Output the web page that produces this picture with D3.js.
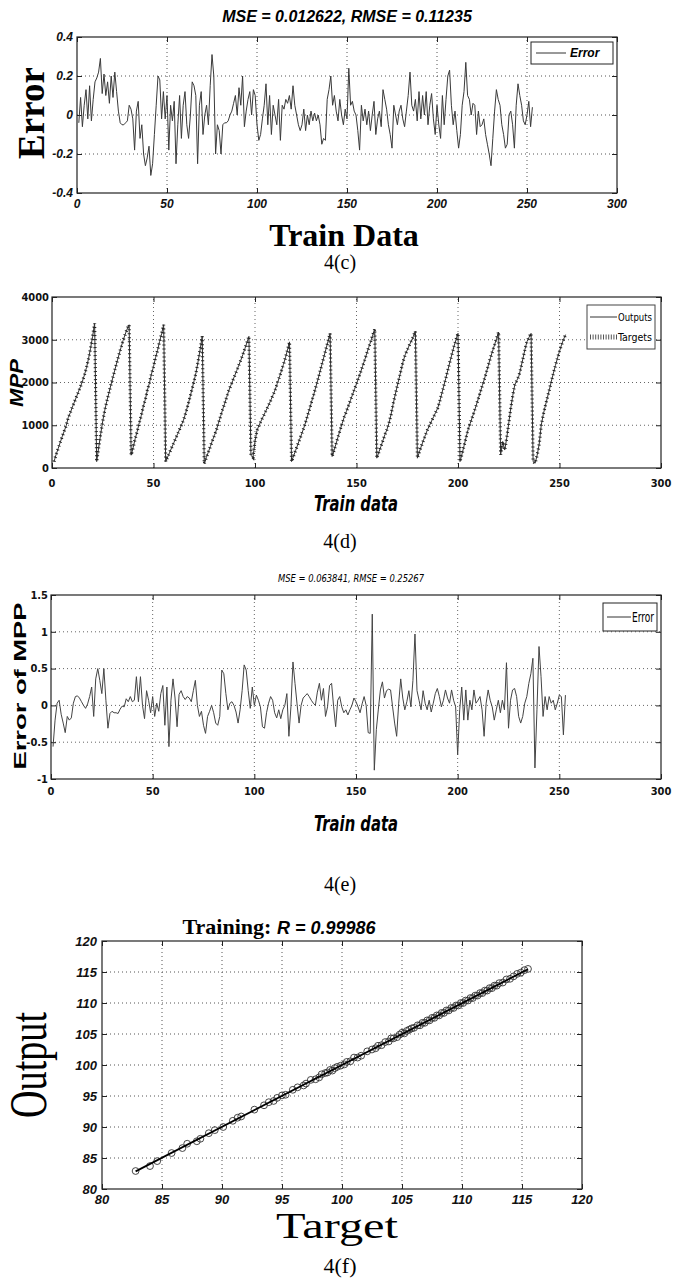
<!DOCTYPE html>
<html>
<head>
<meta charset="utf-8">
<script src="https://cdn.jsdelivr.net/npm/d3@7"></script>
<style>
  html, body { margin: 0; padding: 0; background: #fff; }
  svg { display: block; }
  .sans { font-family: "Liberation Sans", Arial, sans-serif; }
  .narrow { font-family: "Liberation Sans Narrow", "DejaVu Sans Condensed", "Arial Narrow", sans-serif; }
  .serif { font-family: "Liberation Serif", "Times New Roman", serif; }
</style>
</head>
<body>
<svg id="fig" width="681" height="1280"></svg>
<script>
// ---- 4(c): training error per sample ----
const trainErrorC = [
  -0.04, 0.09, -0.06, 0.05, 0.13, -0.02, 0.15, -0.03, 0.08, 0.17,
  0.19, 0.22, 0.29, 0.11, 0.21, 0.10, 0.17, 0.06, 0.20, 0.09,
  0.22, 0.12, 0.02, -0.04, -0.05, -0.05, -0.04, -0.03, 0.05, 0.03,
  -0.02, -0.18, 0.02, 0.07, -0.12, -0.05, -0.20, -0.26, -0.22, -0.16,
  -0.31, -0.25, -0.10, 0.05, 0.20, 0.18, -0.02, 0.12, -0.02, 0.10,
  -0.18, 0.05, -0.03, 0.07, -0.25, -0.05, 0.10, -0.12, 0.05, 0.12,
  -0.05, -0.12, 0.00, 0.17, 0.15, 0.10, -0.25, 0.05, 0.12, -0.10,
  0.00, 0.05, -0.05, 0.15, 0.31, 0.20, -0.20, -0.05, -0.08, -0.20,
  -0.05, -0.04, -0.04, -0.03, 0.00, 0.02, 0.06, 0.10, 0.00, 0.14,
  0.05, 0.20, -0.06, 0.02, 0.08, 0.12, 0.00, 0.13, 0.10, -0.05,
  -0.13, -0.10, -0.02, 0.05, 0.16, -0.05, 0.10, -0.10, 0.05, 0.00,
  -0.05, 0.08, -0.13, 0.05, 0.03, 0.08, 0.06, 0.10, 0.03, 0.15,
  0.05, 0.00, -0.05, -0.08, -0.05, 0.03, -0.08, 0.00, -0.05, 0.02,
  -0.03, 0.01, -0.03, 0.00, -0.05, -0.15, -0.12, -0.13, 0.08, 0.13,
  0.20, 0.05, 0.10, 0.02, -0.03, 0.08, 0.00, -0.05, 0.03, -0.02,
  0.24, 0.05, 0.07, 0.02, 0.00, -0.08, -0.18, 0.05, -0.03, 0.03,
  -0.05, 0.02, -0.08, 0.00, 0.07, -0.10, -0.02, 0.02, -0.06, 0.13,
  0.08, 0.03, -0.05, -0.10, -0.17, 0.05, 0.00, -0.05, 0.02, 0.05,
  -0.02, -0.06, 0.02, 0.10, 0.22, 0.05, 0.02, 0.08, -0.03, 0.12,
  -0.02, 0.10, 0.00, 0.12, -0.05, 0.05, 0.11, -0.02, -0.10, 0.05,
  -0.05, -0.12, 0.10, -0.05, 0.08, 0.20, 0.23, 0.05, -0.05, 0.02,
  -0.08, -0.17, -0.10, 0.05, 0.12, 0.27, 0.10, 0.08, 0.00, 0.06,
  0.05, -0.10, 0.02, -0.06, -0.05, -0.02, -0.10, -0.15, -0.20, -0.26,
  -0.12, 0.02, 0.13, 0.08, 0.05, -0.05, -0.10, -0.17, -0.15, 0.00,
  0.02, -0.05, -0.17, 0.05, 0.16, 0.10, 0.05, -0.03, -0.05, 0.00,
  0.07, -0.06, 0.04
];
const titleC = "MSE = 0.012622, RMSE = 0.11235";
const xTicksC = [0, 50, 100, 150, 200, 250, 300];
const yTicksC = [-0.4, -0.2, 0, 0.2, 0.4];

// ---- 4(d): MPP targets (network outputs = targets - error of MPP) ----
const mppTargets = [
  150, 310, 450, 590, 730, 860, 990, 1180, 1290, 1420, 1540, 1660, 1780, 1900, 2030, 2180, 2350, 2560, 2800, 3080, 3380,
  150, 480, 800, 1100, 1350, 1560, 1750, 1940, 2120, 2300, 2480, 2650, 2820, 2980, 3120, 3250, 3350,
  300, 480, 690, 860, 1060, 1230, 1440, 1610, 1820, 1990, 2200, 2370, 2580, 2750, 2960, 3140, 3350,
  150, 260, 370, 480, 590, 700, 810, 920, 1030, 1150, 1310, 1480, 1660, 1850, 2040, 2240, 2500, 2780, 3080,
  100, 240, 370, 500, 640, 760, 890, 1050, 1200, 1360, 1500, 1650, 1800, 1920, 2040, 2160, 2280, 2400, 2520, 2650, 2790, 2930, 3080,
  300, 250, 620, 880, 1000, 1100, 1200, 1300, 1400, 1500, 1610, 1720, 1840, 1980, 2120, 2270, 2420, 2580, 2760, 2950,
  150, 280, 410, 540, 670, 800, 930, 1080, 1240, 1400, 1570, 1730, 1900, 2070, 2250, 2430, 2610, 2790, 2970, 3150,
  270, 420, 580, 740, 900, 1050, 1200, 1320, 1450, 1580, 1710, 1840, 1970, 2100, 2240, 2380, 2520, 2670, 2820, 2960, 3110, 3250,
  230, 370, 500, 640, 780, 900, 1050, 1250, 1480, 1700, 1900, 2100, 2300, 2500, 2650, 2760, 2870, 2970, 3080, 3200,
  230, 380, 520, 650, 780, 900, 1000, 1100, 1200, 1300, 1400, 1560, 1740, 1920, 2100, 2290, 2480, 2660, 2840, 3000, 3150,
  150, 330, 520, 720, 900, 1040, 1180, 1320, 1470, 1620, 1780, 1930, 2080, 2240, 2410, 2580, 2730, 2880, 3030, 3180,
  310, 620, 420, 700, 1050, 1400, 1700, 1950, 2050, 2150, 2350, 2560, 2780, 2960, 3060, 3150,
  150, 110, 300, 560, 1000, 1250, 1450, 1640, 1830, 2030, 2220, 2400, 2570, 2730, 2880, 3010, 3120
];
const xTicksD = [0, 50, 100, 150, 200, 250, 300];
const yTicksD = [0, 1000, 2000, 3000, 4000];

// ---- 4(e): error of MPP ----
const mppError = [
  -0.56, -0.20, 0.03, 0.07, -0.12, -0.24, -0.37, -0.15, -0.20, -0.17,
  0.03, 0.12, 0.13, 0.10, 0.05, 0.00, -0.04, 0.02, 0.12, 0.25,
  -0.15, 0.36, 0.50, 0.34, 0.16, 0.50, 0.07, -0.31, -0.11, -0.08,
  -0.10, -0.10, -0.11, -0.05, -0.01, -0.02, 0.09, 0.05, 0.12, 0.05,
  0.07, 0.39, 0.05, 0.39, 0.00, -0.18, 0.20, 0.07, -0.10, 0.12,
  -0.15, 0.03, -0.08, 0.16, 0.27, -0.27, 0.25, -0.56, 0.07, 0.36,
  0.10, -0.29, 0.15, 0.20, 0.12, 0.08, 0.12, 0.10, 0.05, 0.20,
  0.34, 0.00, -0.15, -0.08, -0.27, -0.38, -0.15, -0.08, 0.00, -0.10,
  -0.24, -0.27, -0.15, 0.48, 0.43, 0.16, -0.06, 0.03, 0.05, 0.00,
  -0.09, -0.24, -0.06, 0.20, 0.55, 0.48, 0.20, -0.04, 0.25, 0.00,
  0.14, 0.07, -0.02, -0.29, -0.31, -0.10, 0.03, 0.12, 0.07, -0.10,
  -0.17, -0.06, -0.18, -0.06, 0.00, 0.16, -0.42, -0.02, 0.59, 0.30,
  0.02, -0.24, 0.00, 0.10, 0.13, 0.16, 0.12, 0.07, 0.03, 0.00,
  0.18, 0.30, 0.07, 0.23, -0.15, -0.02, 0.27, 0.30, -0.02, -0.29,
  0.07, 0.12, -0.02, -0.10, -0.06, -0.13, -0.06, 0.00, 0.10, 0.05,
  -0.02, -0.10, 0.02, 0.12, 0.00, -0.37, -0.38, 1.24, -0.88, -0.33,
  -0.05, 0.21, 0.32, 0.10, 0.20, 0.22, 0.21, -0.02, -0.24, -0.42,
  0.03, 0.36, 0.10, -0.06, 0.05, 0.20, -0.02, 0.34, 0.97, 0.20,
  0.07, -0.06, 0.20, 0.03, -0.06, 0.07, -0.09, 0.03, 0.16, 0.23,
  0.12, -0.02, 0.07, 0.21, 0.10, 0.03, 0.21, 0.07, -0.02, -0.67,
  -0.06, 0.25, -0.20, 0.21, -0.20, 0.07, -0.06, 0.21, 0.03, 0.07,
  0.12, -0.06, -0.42, 0.03, 0.21, 0.07, -0.02, -0.20, -0.06, 0.07,
  -0.10, 0.07, -0.06, 0.58, -0.31, 0.07, 0.21, 0.23, 0.12, -0.15,
  -0.24, -0.15, 0.03, 0.12, 0.30, 0.43, 0.64, -0.85, -0.06, 0.80,
  0.39, -0.15, 0.12, -0.06, 0.12, 0.03, 0.07, -0.06, 0.03, 0.14,
  0.12, -0.40, 0.14
];
const titleE = "MSE = 0.063841, RMSE = 0.25267";
const xTicksE = [0, 50, 100, 150, 200, 250, 300];
const yTicksE = [-1, -0.5, 0, 0.5, 1, 1.5];

// ---- 4(f): regression of outputs against targets ----
const regTargets = [
  82.8, 84.0, 84.6, 85.8, 86.7, 87.1, 87.9, 88.2, 88.9, 89.4,
  90.1, 90.9, 91.3, 91.6, 92.7, 93.5, 93.9, 94.3, 94.6, 95.0,
  95.3, 95.9, 96.3, 96.8, 97.0, 97.4, 97.8, 98.1, 98.3, 98.6,
  98.8, 99.0, 99.2, 99.4, 99.6, 99.9, 100.2, 100.4, 100.7, 101.0,
  101.3, 101.6, 102.1, 102.5, 102.8, 103.0, 103.3, 103.6, 103.9, 104.1,
  104.3, 104.6, 104.8, 105.0, 105.2, 105.4, 105.6, 105.8, 106.0, 106.3,
  106.5, 106.7, 106.9, 107.1, 107.3, 107.5, 107.7, 107.9, 108.1, 108.3,
  108.5, 108.7, 108.9, 109.1, 109.3, 109.5, 109.7, 109.9, 110.1, 110.3,
  110.5, 110.7, 110.9, 111.1, 111.3, 111.5, 111.7, 111.9, 112.1, 112.3,
  112.5, 112.7, 112.9, 113.1, 113.4, 113.7, 114.0, 114.3, 114.6, 114.9,
  115.2, 115.5
];
const regOutputs = [
  82.9, 83.7, 84.5, 85.8, 86.6, 87.3, 87.7, 88.1, 89.0, 89.5,
  90.0, 91.0, 91.5, 91.7, 92.8, 93.5, 94.0, 94.2, 94.7, 95.1,
  95.2, 96.0, 96.4, 96.7, 97.0, 97.6, 97.7, 98.0, 98.5, 98.7,
  98.8, 99.2, 99.1, 99.5, 99.7, 99.9, 100.1, 100.5, 100.6, 101.2,
  101.2, 101.5, 102.2, 102.5, 102.7, 103.1, 103.2, 103.7, 103.8, 104.3,
  104.3, 104.5, 104.9, 105.2, 105.1, 105.5, 105.7, 105.9, 106.0, 106.4,
  106.4, 106.8, 106.8, 107.2, 107.2, 107.6, 107.6, 108.0, 108.0, 108.4,
  108.4, 108.8, 108.8, 109.2, 109.2, 109.6, 109.6, 110.0, 110.0, 110.4,
  110.4, 110.8, 110.8, 111.2, 111.2, 111.6, 111.6, 112.0, 112.0, 112.4,
  112.4, 112.8, 112.8, 113.2, 113.3, 113.8, 113.9, 114.3, 114.7, 114.9,
  115.3, 115.5
];
const fitLine = [[82.8, 82.85], [115.5, 115.45]];
const titleF = ["Training: ", "R = 0.99986"];
const ticksF = [80, 85, 90, 95, 100, 105, 110, 115, 120];

const svg = d3.select("#fig");

// Draws a MATLAB-style boxed axes: dotted grid, inward ticks on all four sides, frame.
function boxAxes(g, x, y, xTicks, yTicks, opt) {
  const [x0, x1] = x.range();
  const [y0, y1] = y.range(); // y0 bottom, y1 top
  const grid = g.append("g").attr("stroke", opt.gridColor || "#555")
    .attr("stroke-width", 1).attr("stroke-dasharray", "1,3");
  xTicks.slice(1, -1).forEach(t => grid.append("line")
    .attr("x1", x(t)).attr("x2", x(t)).attr("y1", y0).attr("y2", y1));
  yTicks.slice(1, -1).forEach(t => grid.append("line")
    .attr("x1", x0).attr("x2", x1).attr("y1", y(t)).attr("y2", y(t)));

  const tl = opt.tick || 5;
  const bottom = d3.axisBottom(x).tickValues(xTicks).tickSizeInner(-tl).tickSizeOuter(0).tickFormat("");
  const top = d3.axisTop(x).tickValues(xTicks).tickSizeInner(-tl).tickSizeOuter(0).tickFormat("");
  const left = d3.axisLeft(y).tickValues(yTicks).tickSizeInner(-tl).tickSizeOuter(0).tickFormat("");
  const right = d3.axisRight(y).tickValues(yTicks).tickSizeInner(-tl).tickSizeOuter(0).tickFormat("");
  [[bottom, `translate(0,${y0})`], [top, `translate(0,${y1})`],
   [left, `translate(${x0},0)`], [right, `translate(${x1},0)`]].forEach(([ax, tr]) => {
    const a = g.append("g").attr("transform", tr).call(ax);
    a.select(".domain").remove();
    a.selectAll("line").attr("stroke", "#222");
  });
  g.append("rect").attr("x", x0).attr("y", y1).attr("width", x1 - x0).attr("height", y0 - y1)
    .attr("fill", "none").attr("stroke", "#222").attr("stroke-width", opt.frame || 1.2);

  // tick labels
  g.append("g").selectAll("text").data(xTicks).join("text")
    .attr("class", opt.labelClass).attr("x", x).attr("y", opt.xLabelY)
    .attr("text-anchor", "middle").attr("font-size", opt.labelSize)
    .attr("font-weight", opt.labelWeight).attr("font-style", opt.labelStyle)
    .attr("fill", "#111").text(d => d);
  g.append("g").selectAll("text").data(yTicks).join("text")
    .attr("class", opt.labelClass).attr("x", x0 - (opt.yLabelGap || 4)).attr("y", y)
    .attr("dy", "0.35em").attr("text-anchor", "end").attr("font-size", opt.labelSize)
    .attr("font-weight", opt.labelWeight).attr("font-style", opt.labelStyle)
    .attr("fill", "#111").text(d => d);
}

function sample(values) { return values.map((v, i) => [i + 1, v]); }

// ================= 4(c) =================
{
  const g = svg.append("g");
  const x = d3.scaleLinear().domain([0, 300]).range([77, 617]);
  const y = d3.scaleLinear().domain([-0.4, 0.4]).range([193, 37]);
  boxAxes(g, x, y, xTicksC, yTicksC, {
    labelClass: "sans", labelSize: 12, labelWeight: "bold", labelStyle: "italic",
    xLabelY: 208, yLabelGap: 4
  });
  g.append("path").datum(sample(trainErrorC))
    .attr("d", d3.line().x(d => x(d[0])).y(d => y(d[1])))
    .attr("fill", "none").attr("stroke", "#3a3a3a").attr("stroke-width", 1);

  // legend
  const lg = g.append("g");
  lg.append("rect").attr("x", 531).attr("y", 42).attr("width", 82).attr("height", 22)
    .attr("fill", "#fff").attr("stroke", "#222").attr("stroke-width", 1);
  lg.append("line").attr("x1", 536).attr("x2", 566).attr("y1", 53).attr("y2", 53)
    .attr("stroke", "#333").attr("stroke-width", 1);
  lg.append("text").attr("class", "sans").attr("x", 570).attr("y", 57)
    .attr("font-size", 12).attr("font-style", "italic").attr("font-weight", "bold").text("Error");

  g.append("text").attr("class", "sans").attr("x", 347).attr("y", 22)
    .attr("text-anchor", "middle").attr("font-size", 16).attr("font-weight", "bold")
    .attr("font-style", "italic").text(titleC);
  g.append("text").attr("class", "serif").attr("transform", "translate(44,113) rotate(-90)")
    .attr("text-anchor", "middle").attr("font-size", 37).attr("font-weight", "bold").text("Error");
  g.append("text").attr("class", "serif").attr("x", 344).attr("y", 246)
    .attr("text-anchor", "middle").attr("font-size", 32).attr("font-weight", "bold").text("Train Data");
  g.append("text").attr("class", "serif").attr("x", 340).attr("y", 269)
    .attr("text-anchor", "middle").attr("font-size", 20).text("4(c)");
}

// ================= 4(d) =================
{
  const g = svg.append("g");
  const x = d3.scaleLinear().domain([0, 300]).range([52, 661]);
  const y = d3.scaleLinear().domain([0, 4000]).range([468, 297]);
  boxAxes(g, x, y, xTicksD, yTicksD, {
    labelClass: "narrow", labelSize: 11, labelWeight: "bold", labelStyle: "normal",
    xLabelY: 487, yLabelGap: 3, gridColor: "#666"
  });
  const line = d3.line().x(d => x(d[0])).y(d => y(d[1]));
  const outputs = mppTargets.map((t, i) => [i + 1, t - mppError[i]]);
  g.append("path").datum(outputs).attr("d", line)
    .attr("fill", "none").attr("stroke", "#333").attr("stroke-width", 1);
  g.append("path").datum(sample(mppTargets)).attr("d", line)
    .attr("fill", "none").attr("stroke", "#222").attr("stroke-width", 3.2)
    .attr("stroke-dasharray", "1,3");

  const lg = g.append("g");
  lg.append("rect").attr("x", 587).attr("y", 305).attr("width", 68).attr("height", 44)
    .attr("fill", "#fff").attr("stroke", "#444").attr("stroke-width", 1);
  lg.append("line").attr("x1", 590).attr("x2", 617).attr("y1", 317).attr("y2", 317)
    .attr("stroke", "#333").attr("stroke-width", 1);
  lg.append("line").attr("x1", 590).attr("x2", 617).attr("y1", 337).attr("y2", 337)
    .attr("stroke", "#555").attr("stroke-width", 5).attr("stroke-dasharray", "1,1.6");
  lg.append("text").attr("class", "narrow").attr("x", 618).attr("y", 321)
    .attr("font-size", 11).attr("textLength", 34).attr("lengthAdjust", "spacingAndGlyphs").text("Outputs");
  lg.append("text").attr("class", "narrow").attr("x", 618).attr("y", 341)
    .attr("font-size", 11).attr("textLength", 34).attr("lengthAdjust", "spacingAndGlyphs").text("Targets");

  g.append("text").attr("class", "sans").attr("transform", "translate(23,383) rotate(-90)")
    .attr("text-anchor", "middle").attr("font-size", 19).attr("font-weight", "bold")
    .attr("font-style", "italic").attr("textLength", 48).attr("lengthAdjust", "spacingAndGlyphs").text("MPP");
  g.append("text").attr("class", "narrow").attr("x", 356).attr("y", 511)
    .attr("text-anchor", "middle").attr("font-size", 21).attr("font-weight", "bold")
    .attr("font-style", "italic").attr("textLength", 84).attr("lengthAdjust", "spacingAndGlyphs").text("Train data");
  g.append("text").attr("class", "serif").attr("x", 340).attr("y", 548)
    .attr("text-anchor", "middle").attr("font-size", 20).text("4(d)");
}

// ================= 4(e) =================
{
  const g = svg.append("g");
  const x = d3.scaleLinear().domain([0, 300]).range([51, 661]);
  const y = d3.scaleLinear().domain([-1, 1.5]).range([779, 595]);
  boxAxes(g, x, y, xTicksE, yTicksE, {
    labelClass: "narrow", labelSize: 11, labelWeight: "bold", labelStyle: "normal",
    xLabelY: 795, yLabelGap: 3, gridColor: "#666"
  });
  g.append("path").datum(sample(mppError))
    .attr("d", d3.line().x(d => x(d[0])).y(d => y(d[1])))
    .attr("fill", "none").attr("stroke", "#444").attr("stroke-width", 1);

  const lg = g.append("g");
  lg.append("rect").attr("x", 603).attr("y", 603).attr("width", 54).attr("height", 28)
    .attr("fill", "#fff").attr("stroke", "#222").attr("stroke-width", 1);
  lg.append("line").attr("x1", 607).attr("x2", 631).attr("y1", 617).attr("y2", 617)
    .attr("stroke", "#333").attr("stroke-width", 1);
  lg.append("text").attr("class", "narrow").attr("x", 632).attr("y", 622)
    .attr("font-size", 14).attr("textLength", 22).attr("lengthAdjust", "spacingAndGlyphs").text("Error");

  g.append("text").attr("class", "narrow").attr("x", 351).attr("y", 582)
    .attr("text-anchor", "middle").attr("font-size", 10).attr("font-style", "italic")
    .attr("textLength", 146).attr("lengthAdjust", "spacingAndGlyphs").text(titleE);
  g.append("text").attr("class", "sans").attr("transform", "translate(26,686) rotate(-90)")
    .attr("text-anchor", "middle").attr("font-size", 16).attr("font-weight", "bold")
    .attr("textLength", 167).attr("lengthAdjust", "spacingAndGlyphs").text("Error of MPP");
  g.append("text").attr("class", "narrow").attr("x", 356).attr("y", 831)
    .attr("text-anchor", "middle").attr("font-size", 21).attr("font-weight", "bold")
    .attr("font-style", "italic").attr("textLength", 84).attr("lengthAdjust", "spacingAndGlyphs").text("Train data");
  g.append("text").attr("class", "serif").attr("x", 340).attr("y", 891)
    .attr("text-anchor", "middle").attr("font-size", 20).text("4(e)");
}

// ================= 4(f) =================
{
  const g = svg.append("g");
  const x = d3.scaleLinear().domain([80, 120]).range([102, 582]);
  const y = d3.scaleLinear().domain([80, 120]).range([1189, 941]);
  boxAxes(g, x, y, ticksF, ticksF, {
    labelClass: "sans", labelSize: 13, labelWeight: "bold", labelStyle: "italic",
    xLabelY: 1204, yLabelGap: 5, gridColor: "#555"
  });
  g.append("g").selectAll("circle").data(regTargets.map((t, i) => [t, regOutputs[i]])).join("circle")
    .attr("cx", d => x(d[0])).attr("cy", d => y(d[1])).attr("r", 3.4)
    .attr("fill", "none").attr("stroke", "#333").attr("stroke-width", 0.9);
  g.append("path").datum(fitLine)
    .attr("d", d3.line().x(d => x(d[0])).y(d => y(d[1])))
    .attr("fill", "none").attr("stroke", "#000").attr("stroke-width", 1.8);

  const t = g.append("text").attr("x", 279).attr("y", 934).attr("text-anchor", "middle");
  t.append("tspan").attr("class", "serif").attr("font-size", 22).attr("font-weight", "bold").text(titleF[0]);
  t.append("tspan").attr("class", "sans").attr("font-size", 18).attr("font-weight", "bold")
    .attr("font-style", "italic").text(titleF[1]);

  g.append("text").attr("class", "serif").attr("transform", "translate(46,1065) rotate(-90)")
    .attr("text-anchor", "middle").attr("font-size", 52)
    .attr("textLength", 106).attr("lengthAdjust", "spacingAndGlyphs").text("Output");
  g.append("text").attr("class", "serif").attr("x", 337).attr("y", 1238)
    .attr("text-anchor", "middle").attr("font-size", 36)
    .attr("textLength", 122).attr("lengthAdjust", "spacingAndGlyphs").text("Target");
  g.append("text").attr("class", "serif").attr("x", 340).attr("y", 1273)
    .attr("text-anchor", "middle").attr("font-size", 22).text("4(f)");
}
</script>
</body>
</html>
